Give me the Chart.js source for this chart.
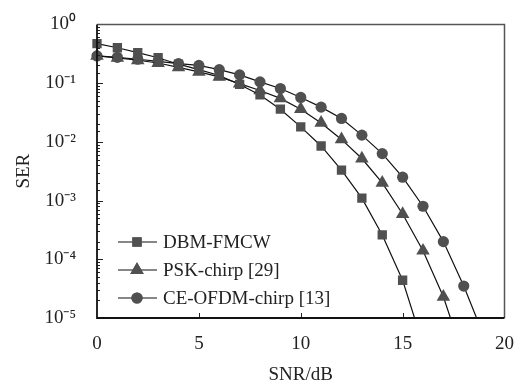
<!DOCTYPE html>
<html><head><meta charset="utf-8">
<script src="https://cdn.jsdelivr.net/npm/chart.js@4.4.0/dist/chart.umd.min.js"></script>
<style>html,body{margin:0;padding:0;background:#fff;}#wrap{width:521px;height:383px;}</style>
</head><body><div id="wrap"><canvas id="c" width="521" height="383"></canvas></div>
<script>
// ---- data ----
const snr = [0,1,2,3,4,5,6,7,8,9,10,11,12,13,14,15,16,17,18,19];
const dbmFmcw = [0.47,0.40,0.33,0.27,0.21,0.17,0.135,0.095,0.063,0.036,0.018,0.0085,0.0033,0.0011,0.00026,0.000044,0.0000035];
const pskChirp = [0.29,0.27,0.245,0.22,0.185,0.155,0.128,0.098,0.075,0.055,0.036,0.021,0.011,0.0052,0.002,0.00059,0.00014,0.000023,0.0000021];
const ceOfdmChirp = [0.29,0.275,0.255,0.235,0.215,0.20,0.17,0.138,0.105,0.081,0.057,0.039,0.025,0.013,0.0063,0.0025,0.0008,0.0002,0.000035,0.0000048];
const seriesNames = ['DBM-FMCW','PSK-chirp [29]','CE-OFDM-chirp [13]'];
const seriesMarkers = ['rect','triangle','circle'];
const xTickValues = [0,5,10,15,20];
const yMin = 1e-5, yMax = 1;

const SUP = {'0':'\u2070','1':'\u00B9','2':'\u00B2','3':'\u00B3','4':'\u2074','5':'\u2075','-':'\u207B'};
const FONT = "'Liberation Serif','Times New Roman',serif";
const markerFill = '#505050';
const markerRadius = {rect:6.6, triangle:7.8, circle:5.6};

function toXY(vals){ return vals.map((v,i)=>({x:snr[i], y:v})); }
const allSeries = [dbmFmcw, pskChirp, ceOfdmChirp];

const datasets = allSeries.map((vals,i)=>({
  label: seriesNames[i],
  data: toXY(vals),
  borderColor:'#111',
  borderWidth:1.2,
  backgroundColor: markerFill,
  pointStyle: seriesMarkers[i],
  pointRadius: markerRadius[seriesMarkers[i]],
  pointHoverRadius: markerRadius[seriesMarkers[i]],
  pointBackgroundColor: markerFill,
  pointBorderColor: markerFill,
  pointBorderWidth: 0,
  tension: 0,
  clip: {left:10, top:10, right:0, bottom:0}
}));

function isPow10(v){ const l=Math.log10(v); return Math.abs(l-Math.round(l))<1e-9; }
function supLabel(v){ const e=String(Math.round(Math.log10(v))); return '10'+e.split('').map(c=>SUP[c]).join(''); }

const deco = {
  id:'deco',
  afterDraw(chart){
    const ctx = chart.ctx, a = chart.chartArea;
    const ys = chart.scales.y, xs = chart.scales.x;
    ctx.save();
    ctx.strokeStyle='#222'; ctx.lineWidth=1;
    ys.ticks.forEach(t=>{
      const p = Math.round(ys.getPixelForValue(t.value))+0.5;
      const len = isPow10(t.value)?6:3;
      ctx.beginPath(); ctx.moveTo(a.left, p); ctx.lineTo(a.left+len, p); ctx.stroke();
    });
    xs.ticks.forEach(t=>{
      if (t.value<=0 || t.value>=20) return;
      const p = Math.round(xs.getPixelForValue(t.value))+0.5;
      ctx.beginPath(); ctx.moveTo(p, a.bottom); ctx.lineTo(p, a.bottom-5); ctx.stroke();
    });
    ctx.strokeStyle='#555'; ctx.lineWidth=1.5;
    ctx.beginPath(); ctx.moveTo(a.left, a.top); ctx.lineTo(a.right, a.top); ctx.lineTo(a.right, a.bottom); ctx.stroke();
    ctx.strokeStyle='#111'; ctx.lineWidth=1.8;
    ctx.beginPath(); ctx.moveTo(a.left, a.top); ctx.lineTo(a.left, a.bottom); ctx.lineTo(a.right, a.bottom); ctx.stroke();
    const rows = [242, 270, 298];
    ctx.font = '19px '+FONT; ctx.textBaseline='middle'; ctx.textAlign='left';
    chart.data.datasets.forEach((ds,i)=>{
      const y = rows[i];
      ctx.strokeStyle='#111'; ctx.lineWidth=1.2;
      ctx.beginPath(); ctx.moveTo(118,y); ctx.lineTo(157,y); ctx.stroke();
      ctx.fillStyle=markerFill;
      Chart.helpers.drawPoint(ctx, {pointStyle: ds.pointStyle, radius: ds.pointRadius, borderWidth:0}, 137, y);
      ctx.fill();
      ctx.fillStyle='#222';
      ctx.fillText(ds.label, 163, y+1);
    });
    ctx.restore();
  }
};

new Chart(document.getElementById('c'), {
  type:'line',
  data:{datasets},
  options:{
    responsive:false,
    animation:false,
    events:[],
    layout:{padding:{left:0, right:16, top:16, bottom:0}},
    plugins:{legend:{display:false}, tooltip:{enabled:false}},
    scales:{
      x:{
        type:'linear', min:0, max:20,
        afterBuildTicks(s){ s.ticks = xTickValues.map(v=>({value:v})); },
        grid:{display:false}, border:{display:false},
        ticks:{font:{family:FONT,size:19}, color:'#222', padding:7, maxRotation:0},
        title:{display:true, text:'SNR/dB', font:{family:FONT,size:19,lineHeight:0.8}, color:'#222', padding:0},
        afterFit(s){ s.height = 65; }
      },
      y:{
        type:'logarithmic', min:yMin, max:yMax,
        grid:{display:false}, border:{display:false},
        ticks:{autoSkip:false, font:{family:FONT,size:19}, color:'#222', padding:13,
          callback:(v)=> isPow10(v)? supLabel(v) : ''},
        title:{display:true, text:'SER', font:{family:FONT,size:19,lineHeight:1}, color:'#222', padding:{top:15,bottom:0}},
        afterFit(s){ s.width = 97; }
      }
    }
  },
  plugins:[deco]
});
</script></body></html>
